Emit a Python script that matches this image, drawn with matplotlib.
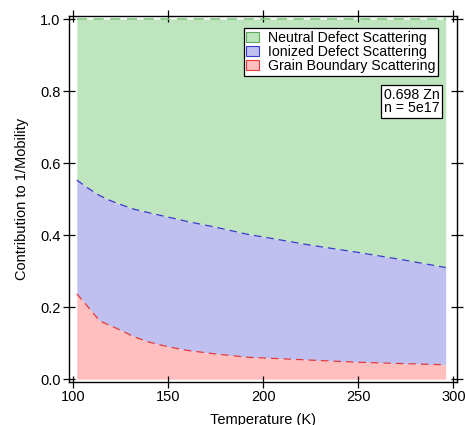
import matplotlib
matplotlib.use('Agg')
import matplotlib.pyplot as plt

plt.rcParams['font.family'] = ['Liberation Sans', 'DejaVu Sans']

# temperature samples (K)
temperature = [102, 108, 114, 120, 125, 132, 140, 150, 160, 175, 192, 200, 225, 250, 275, 296]
# cumulative contributions to 1/mobility
grain_boundary = [0.237, 0.200, 0.162, 0.148, 0.136, 0.118, 0.103, 0.090, 0.080, 0.070, 0.061,
                  0.059, 0.053, 0.047, 0.043, 0.040]
ionized_top = [0.553, 0.530, 0.510, 0.495, 0.485, 0.472, 0.462, 0.450, 0.438, 0.422, 0.402,
               0.395, 0.372, 0.352, 0.330, 0.310]
neutral_top = [1.0] * len(temperature)

labels = ['Neutral Defect Scattering', 'Ionized Defect Scattering', 'Grain Boundary Scattering']

fig = plt.figure(figsize=(4.65, 4.25), dpi=100)
ax = fig.add_axes([0.148, 0.101, 0.835, 0.861])

zero = [0.0] * len(temperature)
ax.fill_between(temperature, ionized_top, neutral_top, color='#bfe5bf', lw=0, label=labels[0])
ax.fill_between(temperature, grain_boundary, ionized_top, color='#bfbff0', lw=0, label=labels[1])
ax.fill_between(temperature, zero, grain_boundary, color='#ffbfbf', lw=0, label=labels[2])

ax.plot(temperature, neutral_top, ls=(0, (6, 4)), color='#7fc77f', lw=1.2)
ax.plot(temperature, ionized_top, ls=(0, (6, 4)), color='#3a3ad0', lw=0.9)
ax.plot(temperature, grain_boundary, ls=(0, (6, 4)), color='#e83a3a', lw=0.9)

ax.set_xlim(97.8, 302)
ax.set_ylim(-0.008, 1.008)
ax.set_xticks([100, 150, 200, 250, 300])
ax.set_yticks([0.0, 0.2, 0.4, 0.6, 0.8, 1.0])
ax.set_yticklabels(['0.0', '0.2', '0.4', '0.6', '0.8', '1.0'])
ax.tick_params(direction='inout', length=8, width=0.9, top=True, right=True,
               labelsize=10.5, pad=2)
for sp in ax.spines.values():
    sp.set_linewidth(1.0)

ax.set_xlabel('Temperature (K)', fontsize=10.5, labelpad=6)
ax.set_ylabel('Contribution to 1/Mobility', fontsize=10.5, labelpad=8)

handles = [plt.Rectangle((0, 0), 1, 1, fc=c, ec=e, lw=0.8)
           for c, e in [('#bfe5bf', '#5fa85f'), ('#bfbff0', '#3a3ad0'), ('#ffbfbf', '#e83a3a')]]
leg = ax.legend(handles, labels, loc='upper right', bbox_to_anchor=(0.951, 0.967),
                fontsize=10.2, frameon=True, fancybox=False, edgecolor='black',
                framealpha=1, borderpad=0.2, labelspacing=0.0, handlelength=0.9,
                handleheight=0.65, handletextpad=0.6, borderaxespad=0)
leg.get_frame().set_linewidth(0.9)

ax.text(0.955, 0.805, '0.698 Zn\nn = 5e17', transform=ax.transAxes, ha='right', va='top',
        fontsize=10.2, linespacing=0.95,
        bbox=dict(boxstyle='square,pad=0.2', fc='white', ec='black', lw=0.9))

fig.savefig('out.png', dpi=100)
